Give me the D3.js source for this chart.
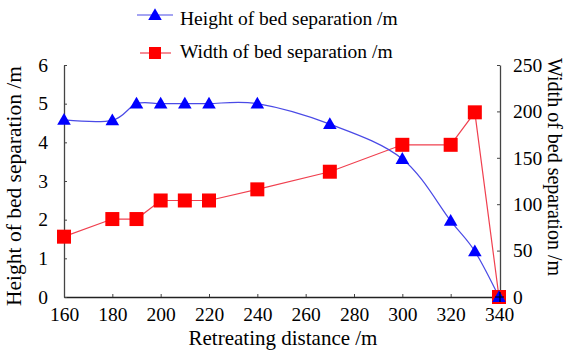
<!DOCTYPE html>
<html>
<head>
<meta charset="utf-8">
<script src="https://cdn.jsdelivr.net/npm/d3@7"></script>
<style>
  body { margin: 0; background: #fff; }
  svg text { font-family: "Liberation Serif", "Times New Roman", serif; fill: #000; }
</style>
</head>
<body>
<svg id="chart" width="567" height="351"></svg>
<script>
// data
var distance = [160, 180, 190, 200, 210, 220, 240, 270, 300, 320, 330, 340];
var heightSep = [4.58, 4.57, 5.0, 5.0, 5.0, 5.0, 5.0, 4.47, 3.57, 1.97, 1.18, 0];
var widthSep = [65, 84, 84, 104, 104, 104, 116, 135, 164, 164, 199, 0];
var xTicks = [160, 180, 200, 220, 240, 260, 280, 300, 320, 340];
var yLeftTicks = [0, 1, 2, 3, 4, 5, 6];
var yRightTicks = [0, 50, 100, 150, 200, 250];

var svg = d3.select('#chart');
var plotLeft = 64, plotRight = 499, plotTop = 65, plotBottom = 297;
var axisColor = '#444';
var tickFont = 19.5;

var x = d3.scaleLinear().domain([160, 340]).range([plotLeft, plotRight]);
var yL = d3.scaleLinear().domain([0, 6]).range([plotBottom, plotTop]);
var yR = d3.scaleLinear().domain([0, 250]).range([plotBottom, plotTop]);

// axes
var gx = svg.append('g').attr('transform', 'translate(0,' + plotBottom + ')')
  .call(d3.axisBottom(x).tickValues(xTicks).tickFormat(d3.format('d'))
    .tickSizeInner(-3).tickSizeOuter(0).tickPadding(10));
var gl = svg.append('g').attr('transform', 'translate(' + plotLeft + ',0)')
  .call(d3.axisLeft(yL).tickValues(yLeftTicks).tickFormat(d3.format('d'))
    .tickSizeInner(-3).tickSizeOuter(0).tickPadding(16));
var gr = svg.append('g').attr('transform', 'translate(' + (plotRight + 1) + ',0)')
  .call(d3.axisRight(yR).tickValues(yRightTicks).tickFormat(d3.format('d'))
    .tickSizeInner(-3).tickSizeOuter(0).tickPadding(13));

[gx, gl, gr].forEach(function(g) {
  g.select('.domain').attr('stroke', axisColor).attr('stroke-width', 1.3);
  g.selectAll('.tick line').attr('stroke', axisColor);
  g.selectAll('.tick text').style('font-size', tickFont + 'px').attr('fill', '#000');
});
gx.select('.domain').attr('stroke', '#222');
gx.selectAll('.tick text').attr('y', 24).attr('dy', 0);

// axis titles
svg.append('text').attr('x', 283).attr('y', 345).attr('text-anchor', 'middle')
  .style('font-size', '21px').text('Retreating distance /m');
svg.append('text').attr('transform', 'translate(21,186) rotate(-90)').attr('text-anchor', 'middle')
  .style('font-size', '21.5px').text('Height of bed separation /m');
svg.append('text').attr('transform', 'translate(548,167) rotate(90)').attr('text-anchor', 'middle')
  .style('font-size', '20px').text('Width of bed separation /m');

// width series (straight lines, right axis)
var widthLine = d3.line()
  .x(function(d, i) { return x(distance[i]); })
  .y(function(d) { return yR(d); });
svg.append('path').datum(widthSep).attr('d', widthLine)
  .attr('fill', 'none').attr('stroke', '#f0404f').attr('stroke-width', 1.2);

// height series (smoothed, left axis)
var heightLine = d3.line()
  .x(function(d, i) { return x(distance[i]); })
  .y(function(d) { return yL(d); })
  .curve(d3.curveCatmullRom.alpha(0));
svg.append('path').datum(heightSep).attr('d', heightLine)
  .attr('fill', 'none').attr('stroke', '#4a4ae6').attr('stroke-width', 1.2);

var sq = 14;
svg.selectAll('rect.width').data(widthSep).enter().append('rect')
  .attr('class', 'width')
  .attr('x', function(d, i) { return x(distance[i]) - sq / 2; })
  .attr('y', function(d) { return yR(d) - sq / 2; })
  .attr('width', sq).attr('height', sq)
  .attr('fill', '#ff0000');

var tri = d3.symbol().type(d3.symbolTriangle).size(80);
svg.selectAll('path.height').data(heightSep).enter().append('path')
  .attr('class', 'height')
  .attr('transform', function(d, i) { return 'translate(' + x(distance[i]) + ',' + (yL(d) + 1) + ')'; })
  .attr('d', tri)
  .attr('fill', '#0000ff');

// the cross where the last square sits on the axes
svg.append('path').attr('d', 'M' + (plotRight - 4) + ',' + plotBottom + 'H' + (plotRight + 5) +
    'M' + (plotRight + 1) + ',' + (plotBottom - 5) + 'V' + (plotBottom + 5))
  .attr('stroke', '#000').attr('stroke-width', 1.2);

// legend
var legend = svg.append('g');
legend.append('line').attr('x1', 137).attr('x2', 173).attr('y1', 15).attr('y2', 15)
  .attr('stroke', '#4a4ae6').attr('stroke-width', 1.2);
legend.append('path').attr('transform', 'translate(155,16)').attr('d', tri).attr('fill', '#0000ff');
legend.append('text').attr('x', 180).attr('y', 25).style('font-size', '19.5px')
  .text('Height of bed separation /m');
legend.append('line').attr('x1', 140).attr('x2', 171).attr('y1', 53).attr('y2', 53)
  .attr('stroke', '#f0404f').attr('stroke-width', 1.2);
legend.append('rect').attr('x', 149).attr('y', 47).attr('width', 12).attr('height', 12).attr('fill', '#ff0000');
legend.append('text').attr('x', 180).attr('y', 58).style('font-size', '19.5px')
  .text('Width of bed separation /m');
</script>
</body>
</html>
